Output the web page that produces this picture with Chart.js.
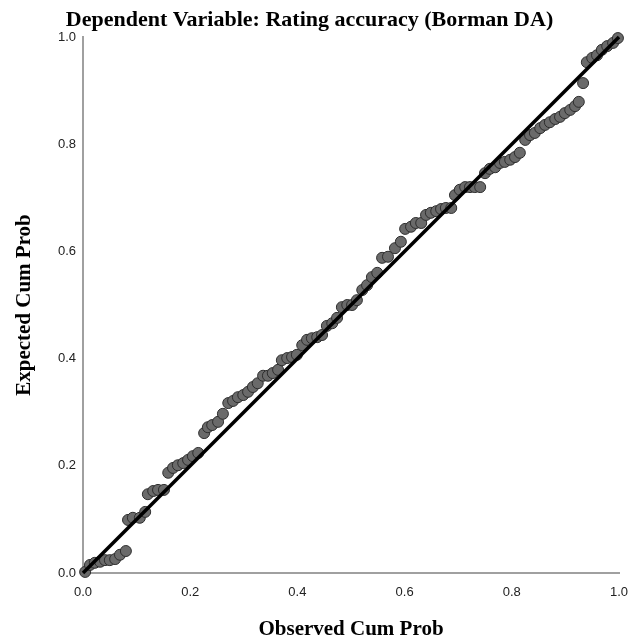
<!DOCTYPE html>
<html lang="en">
  <head>
    <meta charset="UTF-8" />
    <title>Normal P-P Plot</title>
    <style>
      html, body { margin: 0; padding: 0; background: #fff; }
      #chartJSContainer { display: block; }
    </style>
  </head>
  <body>
    <canvas id="chartJSContainer" width="632" height="642"></canvas>

    <script src="https://cdn.jsdelivr.net/npm/chart.js@4.4.0/dist/chart.umd.min.js"></script>
    <script>
      // observed cumulative probability (x) and expected cumulative probability (y)
      const observedCum = [
        0.004, 0.013, 0.022, 0.032, 0.041, 0.050, 0.060, 0.069, 0.080, 0.084,
        0.093, 0.106, 0.116, 0.121, 0.131, 0.140, 0.151, 0.159, 0.168, 0.177,
        0.187, 0.196, 0.205, 0.215, 0.226, 0.233, 0.241, 0.252, 0.261, 0.271,
        0.280, 0.289, 0.299, 0.308, 0.317, 0.326, 0.336, 0.345, 0.354, 0.364,
        0.371, 0.381, 0.390, 0.399, 0.409, 0.418, 0.427, 0.437, 0.446, 0.455,
        0.465, 0.474, 0.483, 0.493, 0.502, 0.511, 0.521, 0.530, 0.539, 0.549,
        0.558, 0.569, 0.582, 0.593, 0.601, 0.612, 0.621, 0.631, 0.640, 0.649,
        0.659, 0.668, 0.677, 0.687, 0.694, 0.703, 0.713, 0.722, 0.731, 0.741,
        0.750, 0.759, 0.769, 0.778, 0.787, 0.797, 0.806, 0.815, 0.825, 0.834,
        0.843, 0.853, 0.862, 0.871, 0.881, 0.890, 0.899, 0.909, 0.918, 0.925,
        0.933, 0.940, 0.950, 0.959, 0.968, 0.978, 0.989, 0.998
      ];
      const expectedCum = [
        0.002, 0.015, 0.019, 0.021, 0.024, 0.024, 0.026, 0.034, 0.041, 0.099,
        0.103, 0.103, 0.114, 0.147, 0.153, 0.155, 0.155, 0.187, 0.196, 0.201,
        0.205, 0.211, 0.218, 0.224, 0.261, 0.272, 0.276, 0.282, 0.297, 0.317,
        0.321, 0.328, 0.332, 0.338, 0.347, 0.354, 0.368, 0.368, 0.373, 0.379,
        0.397, 0.401, 0.403, 0.407, 0.425, 0.435, 0.438, 0.440, 0.444, 0.461,
        0.466, 0.476, 0.496, 0.500, 0.500, 0.509, 0.528, 0.537, 0.552, 0.560,
        0.588, 0.590, 0.606, 0.618, 0.642, 0.646, 0.653, 0.653, 0.668, 0.672,
        0.675, 0.679, 0.681, 0.681, 0.705, 0.715, 0.720, 0.720, 0.720, 0.720,
        0.746, 0.754, 0.757, 0.765, 0.767, 0.771, 0.776, 0.784, 0.808, 0.817,
        0.821, 0.830, 0.836, 0.841, 0.847, 0.851, 0.858, 0.864, 0.871, 0.879,
        0.914, 0.953, 0.961, 0.966, 0.976, 0.983, 0.989, 0.998
      ];
      const refLine = [{ x: 0, y: 0 }, { x: 1, y: 1 }];
      const tickValues = [0, 0.2, 0.4, 0.6, 0.8, 1.0];

      const titleText = 'Dependent Variable: Rating accuracy (Borman DA)';
      const xTitle = 'Observed Cum Prob';
      const yTitle = 'Expected Cum Prob';

      const points = observedCum.map((x, i) => ({ x, y: expectedCum[i] }));

      const serif = "'Liberation Serif', 'Times New Roman', serif";
      const tickFont = { family: "'Liberation Sans', Arial, sans-serif", size: 13 };

      const data = {
        datasets: [
          {
            type: 'line',
            label: 'reference',
            data: refLine,
            borderColor: '#000',
            borderWidth: 3.5,
            pointRadius: 0,
            fill: false,
            order: 0,
            clip: false
          },
          {
            type: 'scatter',
            label: 'residuals',
            data: points,
            backgroundColor: '#6a6a6a',
            borderColor: '#2e2e2e',
            borderWidth: 1,
            pointRadius: 5.5,
            pointHoverRadius: 5.5,
            order: 1,
            clip: false
          }
        ]
      };

      const options = {
        responsive: false,
        animation: false,
        layout: { padding: { left: 0, right: 13, top: 0, bottom: 0 } },
        plugins: {
          legend: { display: false },
          tooltip: { enabled: false },
          title: {
            display: true,
            text: titleText,
            color: '#000',
            font: { family: serif, size: 22, weight: 'bold' },
            padding: { top: 7, bottom: 3.6 }
          }
        },
        scales: {
          x: {
            type: 'linear',
            min: 0,
            max: 1,
            afterBuildTicks: (scale) => { scale.ticks = tickValues.map(v => ({ value: v })); },
            afterFit: (scale) => {
              scale.height = 69;
              scale.paddingLeft = 0;
              scale.paddingRight = 13;
            },
            grid: { display: false, drawTicks: false },
            border: { display: true, color: '#a0a0a0', width: 2 },
            ticks: {
              color: '#222',
              font: tickFont,
              padding: 12,
              callback: (v) => Number(v).toFixed(1)
            },
            title: {
              display: true,
              text: xTitle,
              color: '#000',
              font: { family: serif, size: 21, weight: 'bold' },
              padding: { top: 0, bottom: 0 }
            }
          },
          y: {
            type: 'linear',
            min: 0,
            max: 1,
            afterBuildTicks: (scale) => { scale.ticks = tickValues.map(v => ({ value: v })); },
            afterFit: (scale) => { scale.width = 83; },
            grid: { display: false, drawTicks: false },
            border: { display: true, color: '#a0a0a0', width: 2 },
            ticks: {
              color: '#222',
              font: tickFont,
              padding: 7,
              callback: (v) => Number(v).toFixed(1)
            },
            title: {
              display: true,
              text: yTitle,
              color: '#000',
              font: { family: serif, size: 21, weight: 'bold' },
              padding: { top: 12, bottom: 0 }
            }
          }
        }
      };

      const ctx = document.getElementById('chartJSContainer').getContext('2d');
      new Chart(ctx, { data, options });
    </script>
  </body>
</html>
